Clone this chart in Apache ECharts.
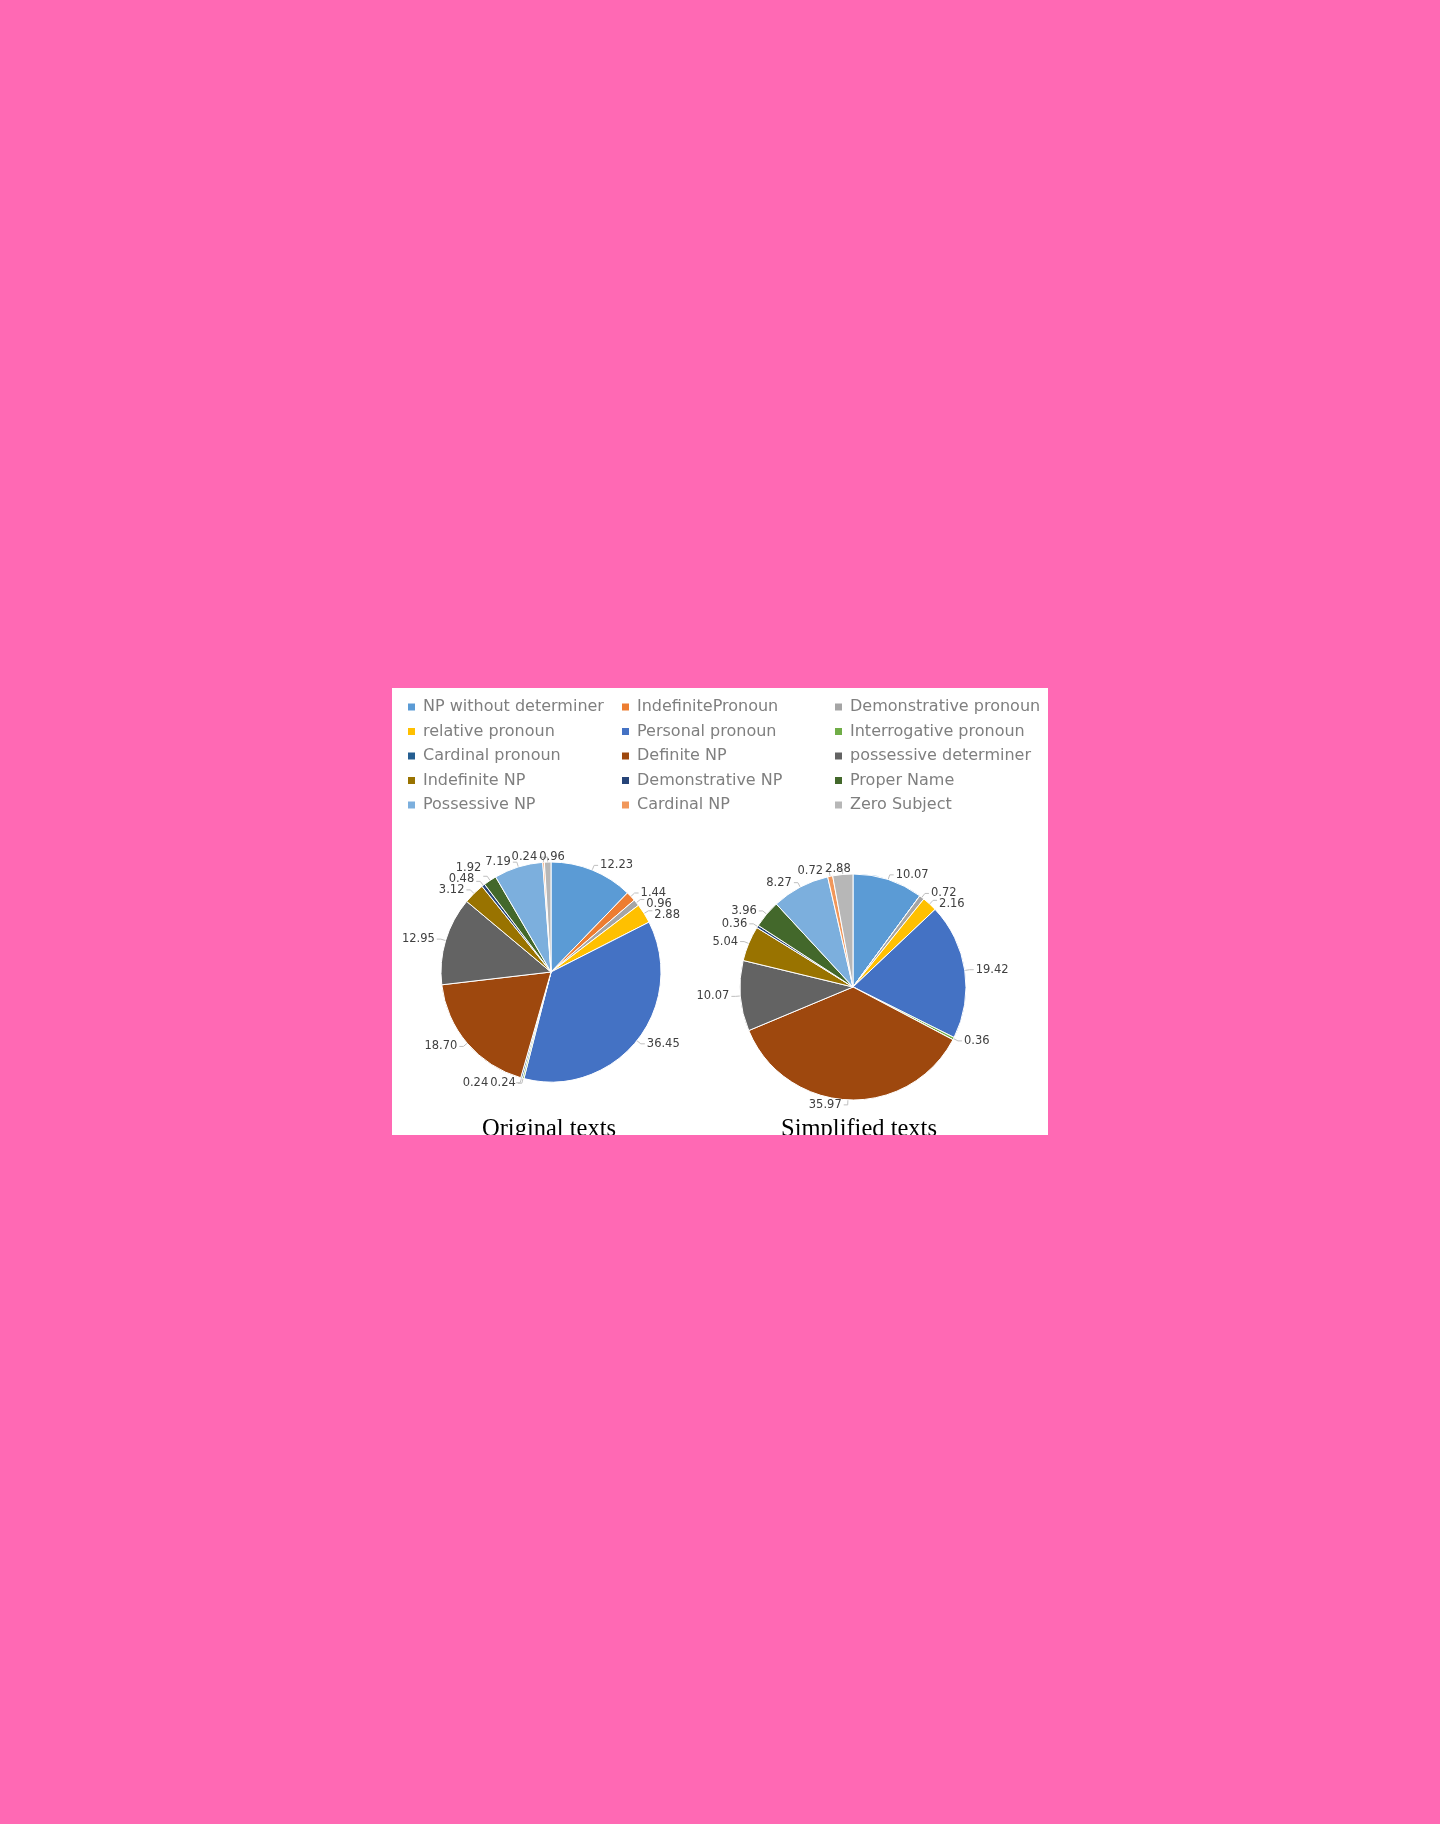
<!DOCTYPE html>
<html>
<head>
<meta charset="utf-8">
<script src="https://cdn.jsdelivr.net/npm/echarts@6/dist/echarts.min.js"></script>
<style>
html,body{margin:0;padding:0;background:#FF69B4;width:1440px;height:1824px;overflow:hidden;}
#panel{position:absolute;left:392px;top:688px;width:656px;height:447px;overflow:hidden;background:#fff;}
#chart{position:absolute;left:0;top:0;width:656px;height:480px;}
</style>
</head>
<body>
<div id="panel"><div id="chart"></div></div>
<script>
const categories = [
  'NP without determiner','IndefinitePronoun','Demonstrative pronoun',
  'relative pronoun','Personal pronoun','Interrogative pronoun',
  'Cardinal pronoun','Definite NP','possessive determiner',
  'Indefinite NP','Demonstrative NP','Proper Name',
  'Possessive NP','Cardinal NP','Zero Subject'
];
const originalValues = [12.23, 1.44, 0.96, 2.88, 36.45, 0.24, 0.24, 18.70, 12.95, 3.12, 0.48, 1.92, 7.19, 0.24, 0.96];
const simplifiedValues = [10.07, 0, 0.72, 2.16, 19.42, 0.36, 0, 35.97, 10.07, 5.04, 0.36, 3.96, 8.27, 0.72, 2.88];
const titles = ['Original texts', 'Simplified texts'];
const colors = ['#5B9BD5','#ED7D31','#A5A5A5','#FFC000','#4472C4','#70AD47','#255E91','#9E480E','#636363','#997300','#264478','#43682B','#7CAFDD','#F1975A','#B7B7B7'];

const FONT = "'DejaVu Sans',sans-serif";
const SERIF = "'Liberation Serif','Times New Roman',serif";
const pieCenters = [[159,284],[461,299]];
const pieRadii = [110,113];

function buildData(vals){
  return categories.map((c,i)=>{
    const d = {name:c, value:vals[i]};
    if(!vals[i]){ d.label={show:false}; d.labelLine={show:false}; }
    return d;
  });
}

// simple collision nudging: labels near top/bottom slide sideways, side labels slide vertically
const placed = [[],[]];
function labelNudge(p){
  const s = p.seriesIndex;
  if(p.dataIndex === 0) placed[s] = [];
  const r = p.labelRect;
  const c = pieCenters[s];
  let x = r.x, y = r.y;
  const w = r.width, h = r.height;
  const mx = x + w/2 - c[0], my = y + h/2 - c[1];
  const horiz = Math.abs(my) > 1.5*Math.abs(mx);
  const tol = 1;
  for(let k=0;k<20;k++){
    const o = placed[s].find(q => x < q.x+q.w && x+w > q.x && y < q.y+q.h-tol && y+h-tol > q.y);
    if(!o) break;
    if(horiz){
      if(x + w/2 >= o.x + o.w/2) x = o.x + o.w + 2; else x = o.x - w - 2;
    } else {
      if(y + h/2 >= o.y + o.h/2) y = o.y + o.h - tol; else y = o.y - h + tol;
    }
  }
  placed[s].push({x:x,y:y,w:w,h:h});
  return {dx:x - r.x, dy:y - r.y, hideOverlap:false};
}

function pieSeries(vals, idx){
  return {
    type:'pie',
    center:pieCenters[idx],
    radius:pieRadii[idx],
    startAngle:90,
    clockwise:true,
    animation:false,
    avoidLabelOverlap:false,
    labelLayout:labelNudge,
    data:buildData(vals),
    itemStyle:{borderColor:'#fff',borderWidth:1},
    label:{
      show:true,
      formatter:(p)=>p.value.toFixed(2),
      fontFamily:FONT,
      fontSize:11.5,
      color:'#404040',
      distanceToLabelLine:2
    },
    labelLine:{show:true,length:5,length2:4,lineStyle:{color:'#bfbfbf',width:1}},
    emphasis:{disabled:true}
  };
}

const legendCols = [0,1,2].map(col=>({
  orient:'vertical',
  left:[9,223,436][col],
  top:6,
  itemWidth:9,
  itemHeight:9,
  itemGap:8.5,
  icon:'rect',
  selectedMode:false,
  textStyle:{fontFamily:FONT,fontSize:16,color:'#7f7f7f',padding:[0,0,0,2]},
  data:categories.filter((c,i)=>i%3===col)
}));

const chart = echarts.init(document.getElementById('chart'), null, {renderer:'canvas'});
chart.setOption({
  color:colors,
  animation:false,
  legend:legendCols,
  graphic:[
    {type:'text',x:157,y:454,style:{text:titles[0],textAlign:'center',textVerticalAlign:'bottom',font:'24.5px '+SERIF,fill:'#000'}},
    {type:'text',x:467,y:454,style:{text:titles[1],textAlign:'center',textVerticalAlign:'bottom',font:'24.5px '+SERIF,fill:'#000'}}
  ],
  series:[
    pieSeries(originalValues,0),
    pieSeries(simplifiedValues,1)
  ]
});
</script>
</body>
</html>
